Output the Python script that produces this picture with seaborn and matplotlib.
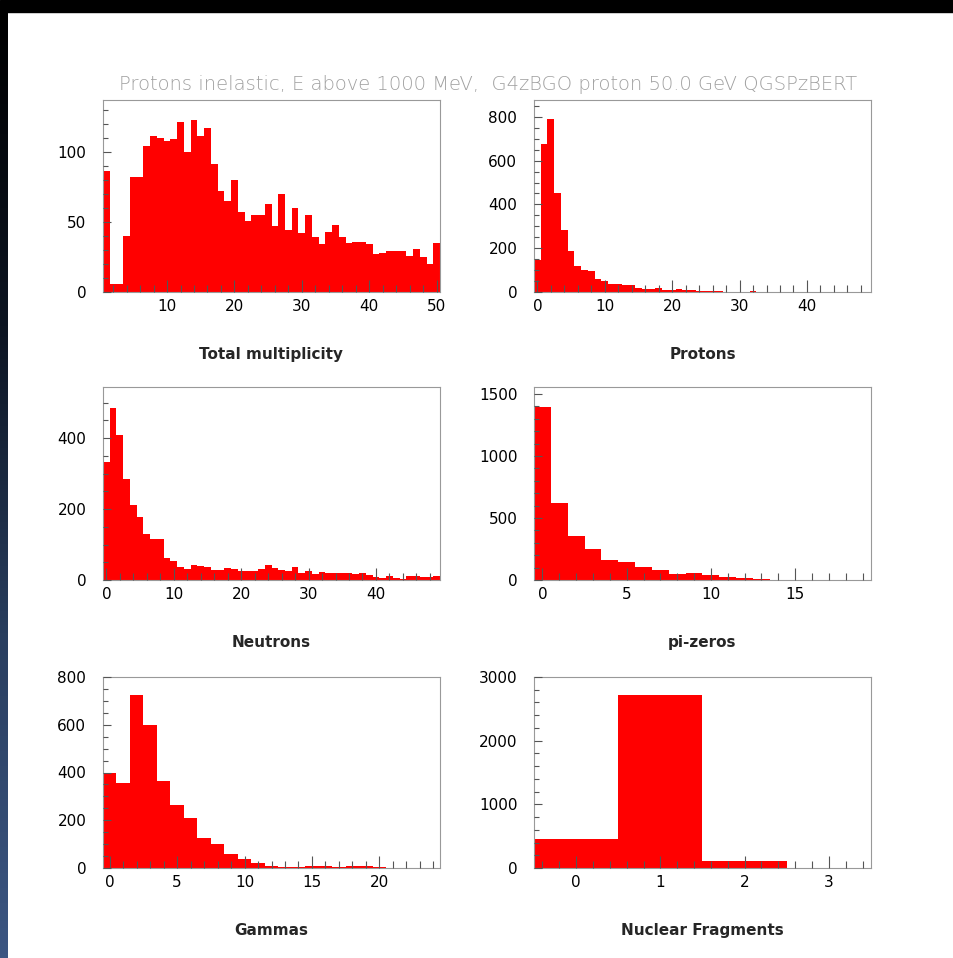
import numpy as np
import pandas as pd
import matplotlib
matplotlib.use("Agg")
import matplotlib.pyplot as plt
import seaborn as sns
from matplotlib.ticker import MultipleLocator
from matplotlib.patches import Rectangle
from matplotlib.colors import LinearSegmentedColormap

sns.set_theme(style="white")
plt.rcParams['font.family'] = ['DejaVu Sans']

TITLE = "Protons inelastic, E above 1000 MeV,  G4zBGO proton 50.0 GeV QGSPzBERT"

# ---- data (counts per integer bin) ----
total_mult_x = list(range(1, 51))
total_mult = [86, 6, 6, 40, 82, 82, 104, 111, 110, 108, 109, 121, 100, 123, 111, 117, 91, 72, 65, 80,
              57, 51, 55, 55, 63, 47, 70, 44, 60, 42, 55, 39, 34, 43, 48, 39, 35, 36, 36, 34,
              27, 28, 29, 29, 29, 26, 31, 25, 20, 35]

protons_x = list(range(0, 50))
protons = [145, 678, 788, 454, 285, 186, 117, 99, 96, 61, 50, 35, 35, 34, 30, 20, 14, 14, 20, 11,
           11, 12, 11, 8, 5, 4, 3, 3, 2, 1, 1, 0, 3, 0, 2, 0, 0, 0, 0, 0,
           0, 0, 0, 0, 0, 0, 0, 0, 0, 0]

neutrons_x = list(range(0, 50))
neutrons = [333, 486, 408, 286, 210, 177, 130, 115, 115, 61, 54, 38, 32, 41, 39, 38, 28, 28, 33, 30,
            26, 26, 24, 30, 42, 34, 29, 24, 36, 21, 26, 16, 22, 19, 21, 21, 19, 17, 19, 14,
            9, 5, 11, 5, 3, 12, 11, 9, 9, 11]

pizeros_x = list(range(0, 20))
pizeros = [1392, 624, 357, 247, 161, 148, 108, 78, 48, 54, 40, 27, 16, 8, 3, 1, 1, 0, 0, 0]

gammas_x = list(range(0, 25))
gammas = [399, 357, 725, 597, 363, 262, 211, 127, 99, 60, 36, 21, 10, 5, 4, 10, 10, 4, 10, 8,
          3, 2, 1, 1, 1]

fragments_x = [0, 1, 2, 3]
fragments = [460, 2720, 110, 0]

panels = [
    dict(x=total_mult_x, y=total_mult, label="Total multiplicity", xlim=(0.5, 50.5), ylim=(0, 137),
         xmaj=10, xmin=2, ymaj=50, ymin=10),
    dict(x=protons_x, y=protons, label="Protons", xlim=(-0.5, 49.5), ylim=(0, 877),
         xmaj=10, xmin=2, ymaj=200, ymin=50),
    dict(x=neutrons_x, y=neutrons, label="Neutrons", xlim=(-0.5, 49.5), ylim=(0, 544),
         xmaj=10, xmin=2, ymaj=200, ymin=50),
    dict(x=pizeros_x, y=pizeros, label="pi-zeros", xlim=(-0.5, 19.5), ylim=(0, 1556),
         xmaj=5, xmin=1, ymaj=500, ymin=100),
    dict(x=gammas_x, y=gammas, label="Gammas", xlim=(-0.5, 24.5), ylim=(0, 800),
         xmaj=5, xmin=1, ymaj=200, ymin=50),
    dict(x=fragments_x, y=fragments, label="Nuclear Fragments", xlim=(-0.5, 3.5), ylim=(0, 3000),
         xmaj=1, xmin=0.2, ymaj=1000, ymin=200),
]

W, H = 954, 958
fig = plt.figure(figsize=(W / 100, H / 100), dpi=100, facecolor="white")

# dark frame decoration (top bar and left gradient strip)
fig.add_artist(Rectangle((0, 1 - 12 / H), 1, 12 / H, transform=fig.transFigure,
                         color="black", zorder=0))
strip = fig.add_axes([0, 0, 8 / W, 1 - 12 / H])
cmap = LinearSegmentedColormap.from_list("strip", ["#000000", "#0d1522", "#2a3f60", "#3c5682"])
strip.imshow(np.linspace(0, 1, 256).reshape(-1, 1), aspect="auto", cmap=cmap, origin="upper")
strip.set_axis_off()

lefts = [103, 534]
rows = [(100, 292), (387, 580), (677, 868)]
axw = 337

for i, p in enumerate(panels):
    r, c = divmod(i, 2)
    top, bot = rows[r]
    ax = fig.add_axes([lefts[c] / W, 1 - bot / H, axw / W, (bot - top) / H])
    df = pd.DataFrame({"x": p["x"], "n": p["y"]})
    sns.histplot(data=df, x="x", weights="n", discrete=True, ax=ax,
                 color="#ff0000", alpha=1.0, linewidth=0, element="bars")
    ax.set_xlim(*p["xlim"])
    ax.set_ylim(*p["ylim"])
    ax.xaxis.set_major_locator(MultipleLocator(p["xmaj"]))
    ax.xaxis.set_minor_locator(MultipleLocator(p["xmin"]))
    ax.yaxis.set_major_locator(MultipleLocator(p["ymaj"]))
    ax.yaxis.set_minor_locator(MultipleLocator(p["ymin"]))
    ax.tick_params(axis="x", which="major", direction="in", length=9, width=0.8,
                   color="#555555", labelsize=11, pad=5, labelcolor="black")
    ax.tick_params(axis="x", which="minor", direction="in", length=5, width=0.8, color="#555555")
    ax.tick_params(axis="y", which="major", direction="in", length=6, width=0.8,
                   color="#555555", labelsize=11, pad=12, labelcolor="black")
    ax.tick_params(axis="y", which="minor", direction="in", length=3.5, width=0.8, color="#555555")
    ax.tick_params(bottom=True, left=True, top=False, right=False, which="both")
    for s in ax.spines.values():
        s.set_color("#999999")
        s.set_linewidth(0.8)
    ax.set_axisbelow(False)
    ax.set_ylabel("")
    ax.set_xlabel(p["label"], fontsize=11, fontweight="bold", labelpad=24)
    ax.grid(False)

fig.text(488 / W, 1 - 85 / H, TITLE, ha="center", va="center", fontsize=14,
         color="#a0a0a0", fontweight="light")

fig.savefig("out.png", dpi=100, facecolor="white")
